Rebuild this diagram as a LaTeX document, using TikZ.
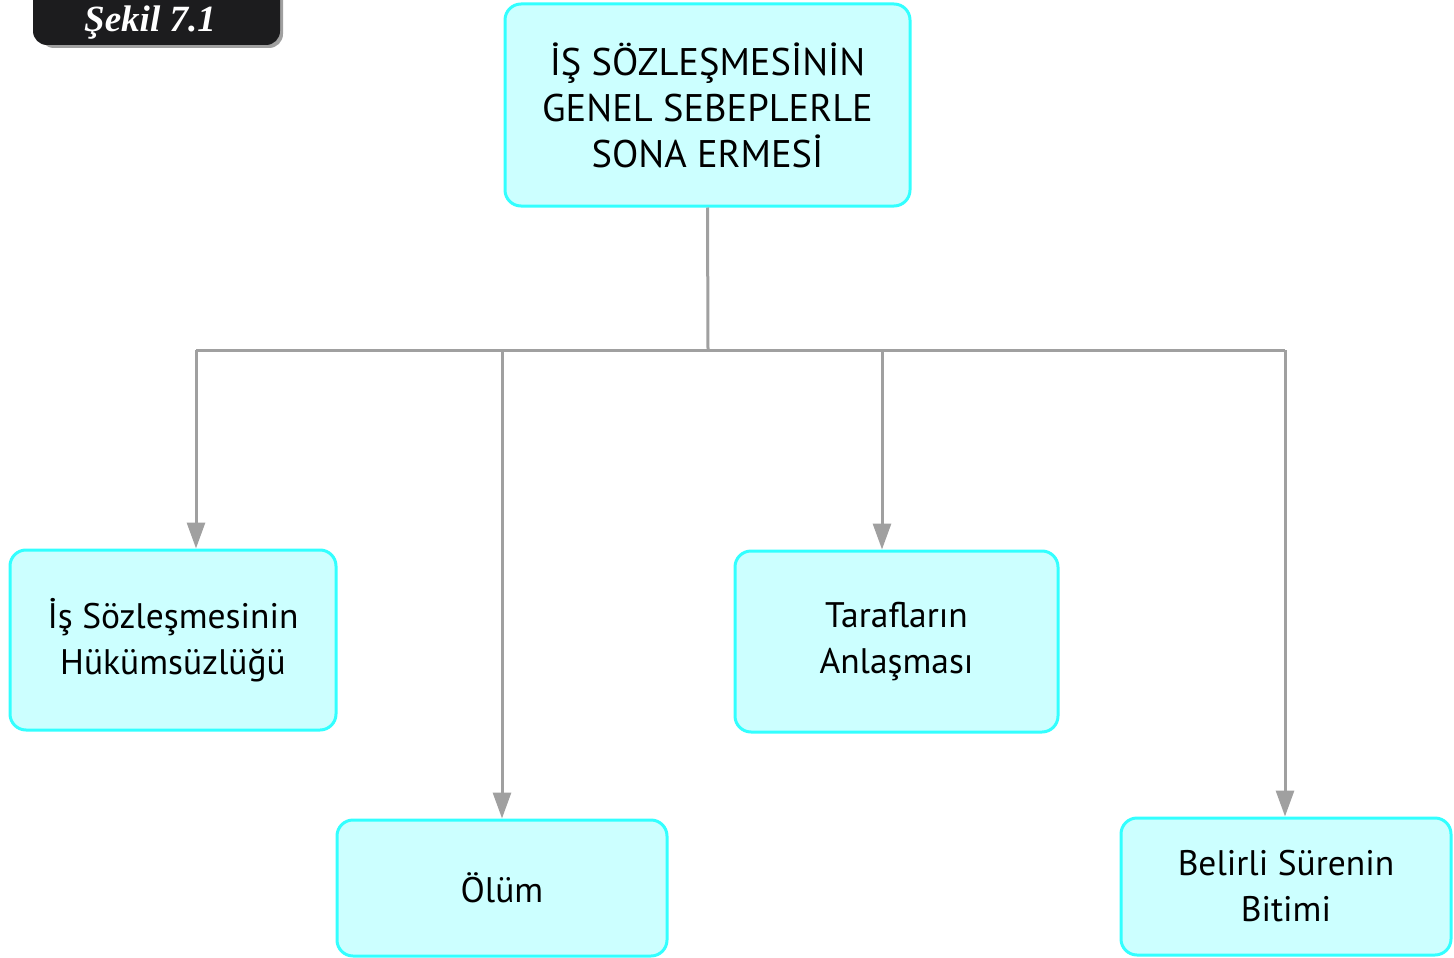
\documentclass[tikz,border=0pt]{standalone}
\usepackage{fontspec}
\setmainfont{PT Sans}
\newfontfamily\labelfont{Liberation Serif}
\usetikzlibrary{arrows.meta}
\definecolor{boxfill}{HTML}{CCFFFF}
\definecolor{boxline}{HTML}{33FFFF}
\definecolor{conn}{HTML}{A0A0A0}
\definecolor{labelbg}{HTML}{1C1C1E}
\tikzset{
  x=1pt, y=-1pt,
  cbox/.style={draw=boxline, fill=boxfill, line width=3pt, rounded corners=16pt, inner sep=0pt, align=center, font=\fontsize{35.5}{46}\selectfont, text=black},
  conline/.style={draw=conn, line width=3pt},
  conarrow/.style={conline, -{Triangle[length=26pt,width=18pt]}},
}
\begin{document}
\begin{tikzpicture}
\useasboundingbox (0,0) rectangle (1454,958);
% label
\fill[conn, rounded corners=14pt] (40,-20) rectangle (283,48);
\fill[labelbg, rounded corners=14pt] (33,-20) rectangle (280,45);
\node[text=white, font=\labelfont\bfseries\itshape\fontsize{37}{37}\selectfont, anchor=base, inner sep=0pt] (lbl) at (150,32) {Şekil 7.1};
% boxes
\node[cbox, minimum width=405pt, minimum height=202pt, font=\fontsize{38.5}{46}\selectfont] (top) at (707.5,105) {İŞ SÖZLEŞMESİNİN\\GENEL SEBEPLERLE\\SONA ERMESİ};
\node[cbox, minimum width=326pt, minimum height=180pt] (b1) at (173,640) {İş Sözleşmesinin\\Hükümsüzlüğü};
\node[cbox, minimum width=330pt, minimum height=136pt] (b2) at (502,888) {Ölüm};
\node[cbox, minimum width=323pt, minimum height=181pt] (b3) at (896.5,641.5) {Tarafların\\Anlaşması};
\node[cbox, minimum width=330pt, minimum height=137pt] (b4) at (1286,886.5) {Belirli Sürenin\\Bitimi};
% connectors
\coordinate (hub) at (708,350);
\coordinate (c1) at (196,350);
\coordinate (c2) at (502,350);
\coordinate (c3) at (882,350);
\coordinate (c4) at (1285,350);
\draw[conline] (top.south) -- (hub);
\draw[conline] (c1) -- (c4);
\draw[conarrow] (c1) -- (c1 |- b1.north);
\draw[conarrow] (c2) -- (c2 |- b2.north);
\draw[conarrow] (c3) -- (c3 |- b3.north);
\draw[conarrow] (c4) -- (c4 |- b4.north);
\end{tikzpicture}
\end{document}
